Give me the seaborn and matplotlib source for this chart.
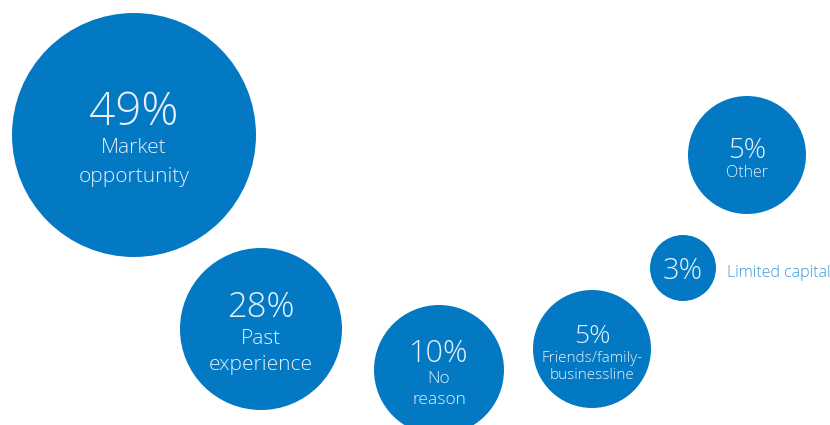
import matplotlib
matplotlib.use("Agg")
import matplotlib.pyplot as plt
import seaborn as sns
import pandas as pd

# Data
reasons = ["Market\nopportunity", "Past\nexperience", "No\nreason",
           "Friends/family-\nbusinessline", "Limited capital", "Other"]
shares = [49, 28, 10, 5, 3, 5]

# Layout (pixel space of an 830x425 canvas)
bubble_x = [134, 261, 439, 592, 683, 747]
bubble_y = [135, 329, 370, 349, 268, 155]
bubble_r = [122, 81, 65, 59, 33, 59]
pct_size = [33, 25, 22, 19, 21, 20]
lab_size = [15, 15, 12.5, 11, 11.5, 11.5]
pct_base = [125, 317, 362, 343, 279, 158]
lab_base = [153, 344, 383, 362, 277, 177]
line_gap = [29, 26, 21, 17, 0, 0]

BLUE = "#0379C3"
TEXT = "#E6F0F9"

sns.set_theme(style="white")
plt.rcParams["font.family"] = ["Open Sans", "DejaVu Sans"]

df = pd.DataFrame({"reason": reasons, "share": shares,
                   "x": bubble_x, "y": bubble_y})
# marker size is area in points^2: diameter (px) * 0.72 at dpi 100
sizes = {r: (2 * rad * 0.72) ** 2 for r, rad in zip(reasons, bubble_r)}

fig = plt.figure(figsize=(8.3, 4.25), dpi=100)
ax = fig.add_axes([0, 0, 1, 1])
sns.scatterplot(data=df, x="x", y="y", size="reason", sizes=sizes,
                color=BLUE, linewidth=0, legend=False, ax=ax, alpha=1)
ax.set_xlim(0, 830)
ax.set_ylim(425, 0)
ax.axis("off")

for i, (lab, val) in enumerate(zip(reasons, shares)):
    cx = bubble_x[i]
    ax.text(cx, pct_base[i], f"{val}%", ha="center", va="baseline",
            fontsize=pct_size[i], color=TEXT, fontweight="light")
    if lab == "Limited capital":
        ax.text(727, lab_base[i], lab, ha="left", va="baseline",
                fontsize=lab_size[i], color="#3B98D6", fontweight="light")
        continue
    for j, line in enumerate(lab.split("\n")):
        ax.text(cx, lab_base[i] + j * line_gap[i], line, ha="center",
                va="baseline", fontsize=lab_size[i], color=TEXT,
                fontweight="light")

fig.savefig("out.png", dpi=100, facecolor="white")
